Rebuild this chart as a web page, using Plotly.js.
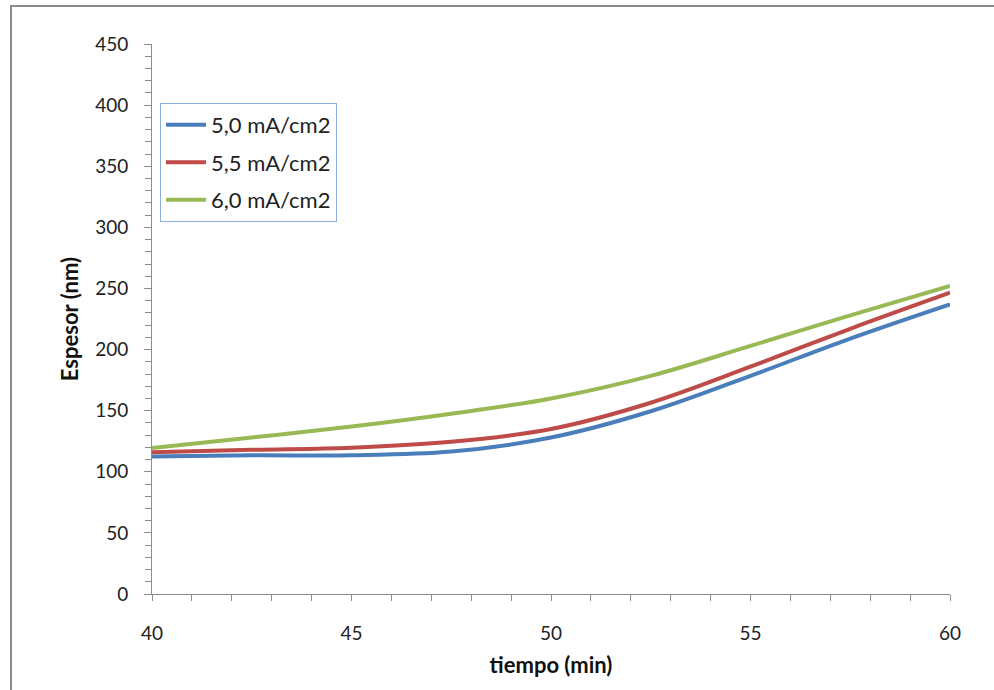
<!DOCTYPE html>
<html>
<head>
<meta charset="utf-8">
<script src="https://cdn.plot.ly/plotly-3.0.1.min.js"></script>
<style>
  html, body { margin: 0; padding: 0; background: #fff; }
  #wrap { position: relative; width: 994px; height: 690px; overflow: hidden; }
  #chart { position: absolute; left: 0; top: 0; width: 994px; height: 690px; }
  #frame { position: absolute; left: 10px; top: 5px; width: 1000px; height: 720px;
           border: 2px solid #8c8c8c; pointer-events: none; box-sizing: border-box; }
</style>
</head>
<body>
<div id="wrap">
  <div id="chart"></div>
  <div id="frame"></div>
</div>
<script>
// Data
const tiempo = [40, 42.5, 45, 47.5, 50, 52.5, 55, 57.5, 60];
const espesor50 = [112.5, 113.5, 113.5, 116.5, 128, 149.5, 178.5, 209, 237];
const espesor55 = [116, 118, 119.7, 124.5, 135, 156.5, 186, 217, 246.5];
const espesor60 = [119.5, 128, 137, 147.5, 160, 178.5, 203, 228, 252];
const seriesNames = ["5,0 mA/cm2", "5,5 mA/cm2", "6,0 mA/cm2"];
const xTickVals = [40, 45, 50, 55, 60];
const yTickVals = [0, 50, 100, 150, 200, 250, 300, 350, 400, 450];

const colors = ["#4a7ebb", "#be4b48", "#98b954"];
const ys = [espesor50, espesor55, espesor60];

const traces = ys.map((y, i) => ({
  x: tiempo,
  y: y,
  type: "scatter",
  mode: "lines",
  name: seriesNames[i],
  legendgroup: "g" + i,
  line: { color: colors[i], width: 4, shape: "spline", smoothing: 1 },
  hoverinfo: "x+y"
}));

const fam = "Lato, 'Liberation Sans', sans-serif";

const layout = {
  width: 994,
  height: 690,
  margin: { l: 152, r: 44, t: 44, b: 96 },
  paper_bgcolor: "#fff",
  plot_bgcolor: "#fff",
  font: { family: fam, size: 19, color: "#222" },
  showlegend: true,
  legend: {
    x: 0.01, y: 0.893, xanchor: "left", yanchor: "top",
    bgcolor: "#fff",
    bordercolor: "#8eaedb",
    borderwidth: 1,
    font: { family: fam, size: 22, color: "#222" },
    tracegroupgap: 6,
    itemwidth: 40
  },
  xaxis: {
    range: [40, 60],
    tickvals: xTickVals,
    ticktext: xTickVals.map(String),
    showgrid: false,
    zeroline: false,
    showline: true,
    linecolor: "#8c8c8c",
    linewidth: 1,
    ticks: "outside",
    ticklen: 6,
    tickcolor: "#8c8c8c",
    ticklabelstandoff: 16,
    tickfont: { family: fam, size: 19, color: "#222" },
    minor: { dtick: 1, ticks: "outside", ticklen: 6, tickcolor: "#8c8c8c", showgrid: false },
    title: { text: "<b>tiempo (min)</b>", font: { family: fam, size: 22, color: "#111" }, standoff: 14 }
  },
  yaxis: {
    range: [0, 450],
    tickvals: yTickVals,
    ticktext: yTickVals.map(String),
    showgrid: false,
    zeroline: false,
    showline: true,
    linecolor: "#8c8c8c",
    linewidth: 1,
    ticks: "outside",
    ticklen: 7,
    tickcolor: "#8c8c8c",
    ticklabelstandoff: 12,
    tickfont: { family: fam, size: 19, color: "#222" },
    minor: { dtick: 10, ticks: "outside", ticklen: 6, tickcolor: "#8c8c8c", showgrid: false },
    title: { text: "<b>Espesor (nm)</b>", font: { family: fam, size: 22, color: "#111" }, standoff: 10 }
  }
};

Plotly.newPlot("chart", traces, layout, { displayModeBar: false, staticPlot: true });
</script>
</body>
</html>
